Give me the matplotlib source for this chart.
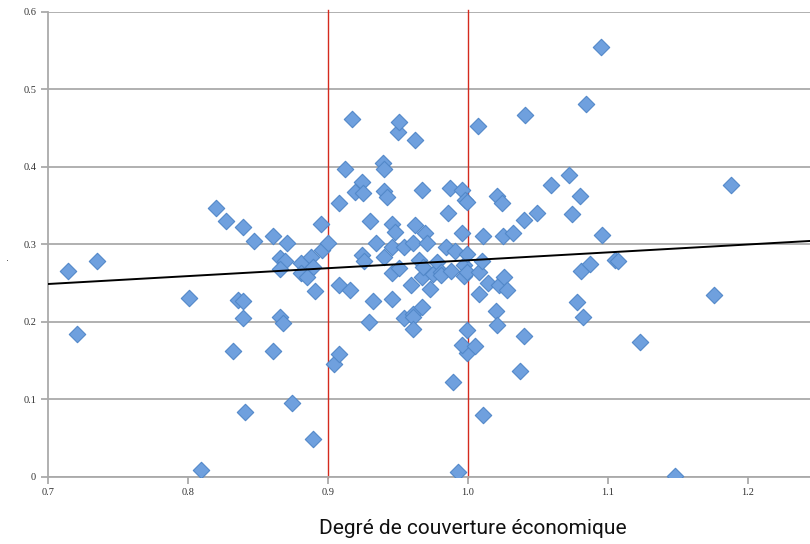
import matplotlib
matplotlib.use("Agg")
import matplotlib.pyplot as plt
import numpy as np

# economic coverage ratio vs. rate, one point per unit
couverture = [
    0.714, 0.735, 0.721, 0.801, 0.809, 0.820, 0.827, 0.839, 0.847, 0.836,
    0.839, 0.839, 0.832, 0.841, 0.861, 0.861, 0.871, 0.866, 0.869, 0.866,
    0.881, 0.888, 0.889, 0.881, 0.885, 0.891, 0.874, 0.889, 0.866, 0.868,
    0.895, 0.896, 0.900, 0.904, 0.908, 0.908, 0.908, 0.912, 0.916, 0.917,
    0.919, 0.924, 0.925, 0.924, 0.926, 0.929, 0.930, 0.932, 0.934, 0.939,
    0.940, 0.940, 0.942, 0.940, 0.946, 0.946, 0.948, 0.946, 0.946, 0.950,
    0.951, 0.951, 0.954, 0.954, 0.959, 0.961, 0.961, 0.961, 0.962, 0.961,
    0.962, 0.965, 0.967, 0.967, 0.968, 0.967, 0.969, 0.971, 0.973, 0.975,
    0.978, 0.981, 0.981, 0.984, 0.986, 0.987, 0.988, 0.989, 0.991, 0.993,
    0.996, 0.996, 0.997, 0.997, 0.998, 0.999, 0.999, 0.999, 0.999, 0.999,
    0.996, 1.005, 1.007, 1.008, 1.008, 1.010, 1.011, 1.011, 1.014, 1.020,
    1.021, 1.021, 1.022, 1.024, 1.025, 1.026, 1.028, 1.032, 1.037, 1.040,
    1.040, 1.041, 1.049, 1.059, 1.072, 1.074, 1.078, 1.080, 1.081, 1.082,
    1.084, 1.087, 1.095, 1.096, 1.105, 1.107, 1.123, 1.148, 1.176, 1.188,
]
taux = [
    0.266, 0.279, 0.185, 0.231, 0.009, 0.347, 0.330, 0.323, 0.305, 0.228,
    0.227, 0.205, 0.163, 0.084, 0.163, 0.311, 0.302, 0.282, 0.279, 0.268,
    0.276, 0.284, 0.271, 0.263, 0.258, 0.240, 0.095, 0.049, 0.206, 0.199,
    0.326, 0.293, 0.302, 0.146, 0.353, 0.248, 0.159, 0.397, 0.241, 0.462,
    0.368, 0.381, 0.366, 0.286, 0.279, 0.200, 0.330, 0.227, 0.302, 0.405,
    0.397, 0.369, 0.361, 0.284, 0.327, 0.263, 0.316, 0.230, 0.297, 0.445,
    0.458, 0.270, 0.205, 0.297, 0.248, 0.210, 0.207, 0.191, 0.435, 0.302,
    0.325, 0.280, 0.370, 0.258, 0.271, 0.219, 0.315, 0.302, 0.243, 0.262,
    0.277, 0.265, 0.261, 0.297, 0.341, 0.373, 0.266, 0.123, 0.292, 0.006,
    0.370, 0.315, 0.274, 0.259, 0.357, 0.355, 0.288, 0.265, 0.190, 0.160,
    0.170, 0.169, 0.453, 0.265, 0.236, 0.279, 0.311, 0.080, 0.250, 0.214,
    0.363, 0.196, 0.248, 0.353, 0.311, 0.258, 0.241, 0.315, 0.137, 0.332,
    0.182, 0.467, 0.341, 0.377, 0.390, 0.339, 0.226, 0.363, 0.266, 0.206,
    0.481, 0.275, 0.555, 0.312, 0.280, 0.279, 0.174, 0.001, 0.235, 0.377,
]

# linear trend (intercept at 0.7, slope)
trend_x = [0.7, 1.25]
trend_b0 = 0.249
trend_slope = 0.102

seuils = [0.9, 1.0]
xticks = [0.7, 0.8, 0.9, 1.0, 1.1, 1.2]
yticks = [0, 0.1, 0.2, 0.3, 0.4, 0.5, 0.6]

fig = plt.figure(figsize=(8.1, 5.44), dpi=100)
ax = fig.add_axes([0.0593, 0.1232, 0.9407, 0.8548])

ax.set_xlim(0.7, 1.2443)
ax.set_ylim(0, 0.6)

for yt in yticks:
    ax.axhline(yt, color="#aaaaaa", lw=1.3, zorder=1)
for s in seuils:
    ax.plot([s, s], [0, 0.603], color="#d42a1e", lw=1.0, zorder=2, clip_on=False)

ty = [trend_b0 + trend_slope * (x - 0.7) for x in trend_x]
ax.plot(trend_x, ty, color="black", lw=1.4, zorder=4)

ax.scatter(couverture, taux, marker="D", s=70, facecolor="#6fa0de",
           edgecolor="#5288c9", linewidths=0.8, zorder=3)

for side in ["top", "right"]:
    ax.spines[side].set_visible(False)
ax.spines["left"].set_color("#aaaaaa")
ax.spines["left"].set_linewidth(1.3)
ax.spines["bottom"].set_color("#aaaaaa")
ax.spines["bottom"].set_linewidth(1.3)

ax.set_xticks(xticks)
ax.set_xticklabels(["0.7", "0.8", "0.9", "1.0", "1.1", "1.2"])
ax.set_yticks(yticks)
ax.set_yticklabels(["0", "0.1", "0.2", "0.3", "0.4", "0.5", "0.6"])
ax.tick_params(axis="both", colors="#aaaaaa", length=5, width=1.3,
               labelcolor="#333333", labelsize=7.5)
ax.tick_params(axis="x", pad=3)
for lbl in ax.get_xticklabels() + ax.get_yticklabels():
    lbl.set_family("Liberation Serif")

fig.text(0.584, 1 - 529 / 544, "Degré de couverture économique", ha="center",
         va="center", fontsize=15, color="#111111", family="Roboto",
         fontweight="normal")
fig.text(0.007, 0.52, ".", fontsize=7, color="#444444")

fig.savefig("out.png", dpi=100)
